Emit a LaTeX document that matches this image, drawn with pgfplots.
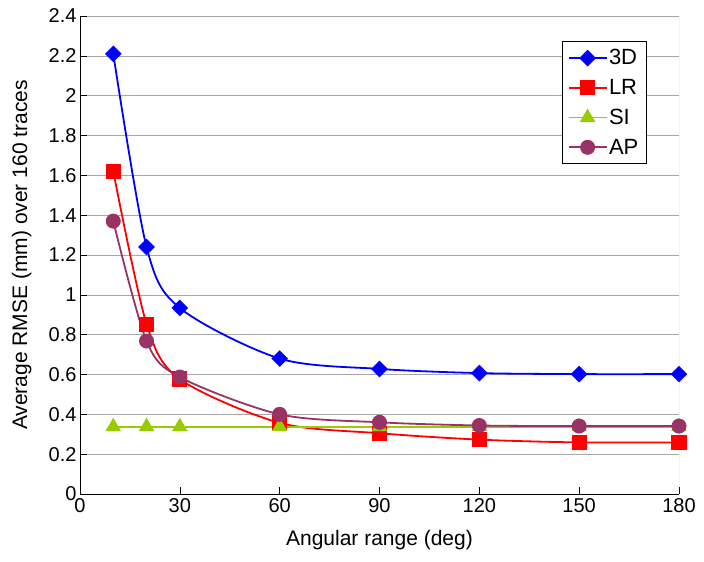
\documentclass[border=0pt]{standalone}
\usepackage{fontspec}
\setmainfont{Liberation Sans}
\usepackage{pgfplots}
\pgfplotsset{compat=1.18}
\definecolor{c3d}{RGB}{0,0,255}
\definecolor{clr}{RGB}{255,0,0}
\definecolor{csi}{RGB}{153,204,0}
\definecolor{cap}{RGB}{153,51,102}
\begin{document}
\begin{tikzpicture}
\begin{axis}[
  scale only axis, width=599pt, height=478pt,
  xmin=0, xmax=180, ymin=0, ymax=2.4,
  xtick={0,30,60,90,120,150,180},
  ytick={0,0.2,0.4,0.6,0.8,1,1.2,1.4,1.6,1.8,2,2.2,2.4},
  axis x line*=bottom, axis y line*=left,
  axis line style={black, line width=0.8pt, -},
  ymajorgrids, major grid style={gray!70, line width=0.6pt},
  tick align=inside, major tick length=7pt,
  tick style={black, line width=0.6pt},
  tick label style={font=\fontsize{20}{24}\selectfont},
  /pgf/number format/assume math mode=true,
  xticklabel style={yshift=-1pt},
  yticklabel style={xshift=0pt},
  label style={font=\fontsize{21}{25}\selectfont},
  xlabel={Angular range (deg)},
  ylabel={Average RMSE (mm) over 160 traces},
  xlabel style={at={(axis description cs:0.5,0)}, anchor=north, yshift=-33pt},
  ylabel style={at={(axis description cs:0,0.5)}, anchor=south, yshift=45pt},
  legend style={at={(0.946,0.947)}, anchor=north east, draw=black, line width=0.6pt,
    fill=white, font=\fontsize{22}{26}\selectfont, row sep=9pt, inner xsep=6pt, inner ysep=6pt},
  legend cell align=left,
  legend image code/.code={\draw[mark repeat=2, mark phase=2, line width=1.8pt] plot coordinates {(0pt,0pt) (18.5pt,0pt) (37pt,0pt)};},
  every axis plot/.append style={line width=1.8pt, smooth},
]
\coordinate (bl) at (rel axis cs:0,0);
\coordinate (tr) at (rel axis cs:1,1);
\draw[gray!80, line width=0.8pt] (rel axis cs:1,0) -- (rel axis cs:1,1);
\addplot[color=c3d, mark=square*, mark size=5pt, mark options={rotate=45, solid}] coordinates {
 (10,2.21) (20,1.24) (30,0.934) (60,0.68) (90,0.628) (120,0.607) (150,0.602) (180,0.602)};
\addlegendentry{3D}
\addplot[color=clr, mark=square*, mark size=6.7pt, mark options={solid}] coordinates {
 (10,1.62) (20,0.853) (30,0.577) (60,0.357) (90,0.305) (120,0.273) (150,0.259) (180,0.259)};
\addlegendentry{LR}
\addplot[color=csi, mark=triangle*, mark size=7.2pt, mark options={solid}] coordinates {
 (10,0.338) (20,0.338) (30,0.338) (60,0.338) (90,0.338) (120,0.338) (150,0.338) (180,0.338)};
\addlegendentry{SI}
\addplot[color=cap, mark=*, mark size=6.6pt, mark options={solid}] coordinates {
 (10,1.37) (20,0.768) (30,0.587) (60,0.40) (90,0.36) (120,0.344) (150,0.341) (180,0.341)};
\addlegendentry{AP}
\end{axis}
\pgfresetboundingbox
\path[use as bounding box] ([shift={(-80pt,-68pt)}]bl) rectangle ([shift={(25pt,16pt)}]tr);
\end{tikzpicture}
\end{document}
